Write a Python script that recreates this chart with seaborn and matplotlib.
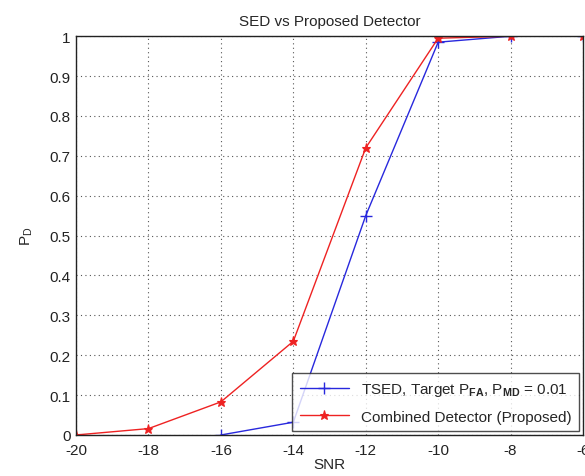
import matplotlib
matplotlib.use("Agg")
import matplotlib.pyplot as plt
import seaborn as sns
import pandas as pd

snr_tsed = [-16, -14, -12, -10, -8, -6]
pd_tsed = [0.0, 0.032, 0.55, 0.985, 1.0, 1.0]
snr_comb = [-20, -18, -16, -14, -12, -10, -8, -6]
pd_comb = [0.0, 0.016, 0.083, 0.235, 0.72, 0.995, 1.0, 1.0]
x_ticks = [-20, -18, -16, -14, -12, -10, -8, -6]
y_ticks = [0, 0.1, 0.2, 0.3, 0.4, 0.5, 0.6, 0.7, 0.8, 0.9, 1]
label_tsed = r"TSED, Target P$_{\mathbf{FA}}$, P$_{\mathbf{MD}}$ = 0.01"
label_comb = "Combined Detector (Proposed)"

sns.set_style("white")
plt.rcParams['font.family'] = ['Liberation Sans', 'DejaVu Sans']
plt.rcParams['mathtext.fontset'] = 'custom'
plt.rcParams['mathtext.rm'] = 'Liberation Sans'
plt.rcParams['mathtext.bf'] = 'Liberation Sans:bold'

fig = plt.figure(figsize=(5.85, 4.77), dpi=100)
ax = fig.add_axes([0.130, 0.086, 0.8666, 0.836])

blue = "#2828dd"
red = "#ee2222"
df1 = pd.DataFrame({"SNR": snr_tsed, "PD": pd_tsed})
df2 = pd.DataFrame({"SNR": snr_comb, "PD": pd_comb})
sns.lineplot(data=df1, x="SNR", y="PD", ax=ax, color=blue, marker="+",
             markersize=9, markeredgewidth=1.0, markeredgecolor=blue,
             linewidth=1.0, label=label_tsed)
sns.lineplot(data=df2, x="SNR", y="PD", ax=ax, color=red, marker="*",
             markersize=6.5, markeredgewidth=0.8, markeredgecolor=red,
             markerfacecolor=red, linewidth=1.0, label=label_comb)

ax.set_xlim(-20, -6)
ax.set_ylim(0, 1)
ax.set_xticks(x_ticks)
ax.set_yticks(y_ticks)
ax.set_xticklabels([str(v) for v in x_ticks])
ax.set_yticklabels(["0", "0.1", "0.2", "0.3", "0.4", "0.5", "0.6", "0.7", "0.8", "0.9", "1"])
ax.tick_params(direction="in", length=4, labelsize=11, colors="#222222")
ax.tick_params(axis="x", pad=6)
ax.tick_params(axis="y", pad=4)
ax.grid(True, linestyle=(0, (1, 3)), color="#555555", linewidth=0.8)
for s in ax.spines.values():
    s.set_color("#222222")
    s.set_linewidth(1.0)

ax.set_title("SED vs Proposed Detector", fontsize=11, pad=8)
ax.set_xlabel("SNR", fontsize=11, labelpad=0)
ax.set_ylabel(r"P$_{\mathrm{D}}$", fontsize=11, labelpad=10)

leg = ax.legend(loc="lower right", fontsize=11, frameon=True, fancybox=False,
                edgecolor="#222222", borderpad=0.5, handlelength=3.2,
                labelspacing=0.75, borderaxespad=0.25)
leg.get_frame().set_linewidth(1.0)

fig.savefig("out.png", dpi=100, facecolor="white")
